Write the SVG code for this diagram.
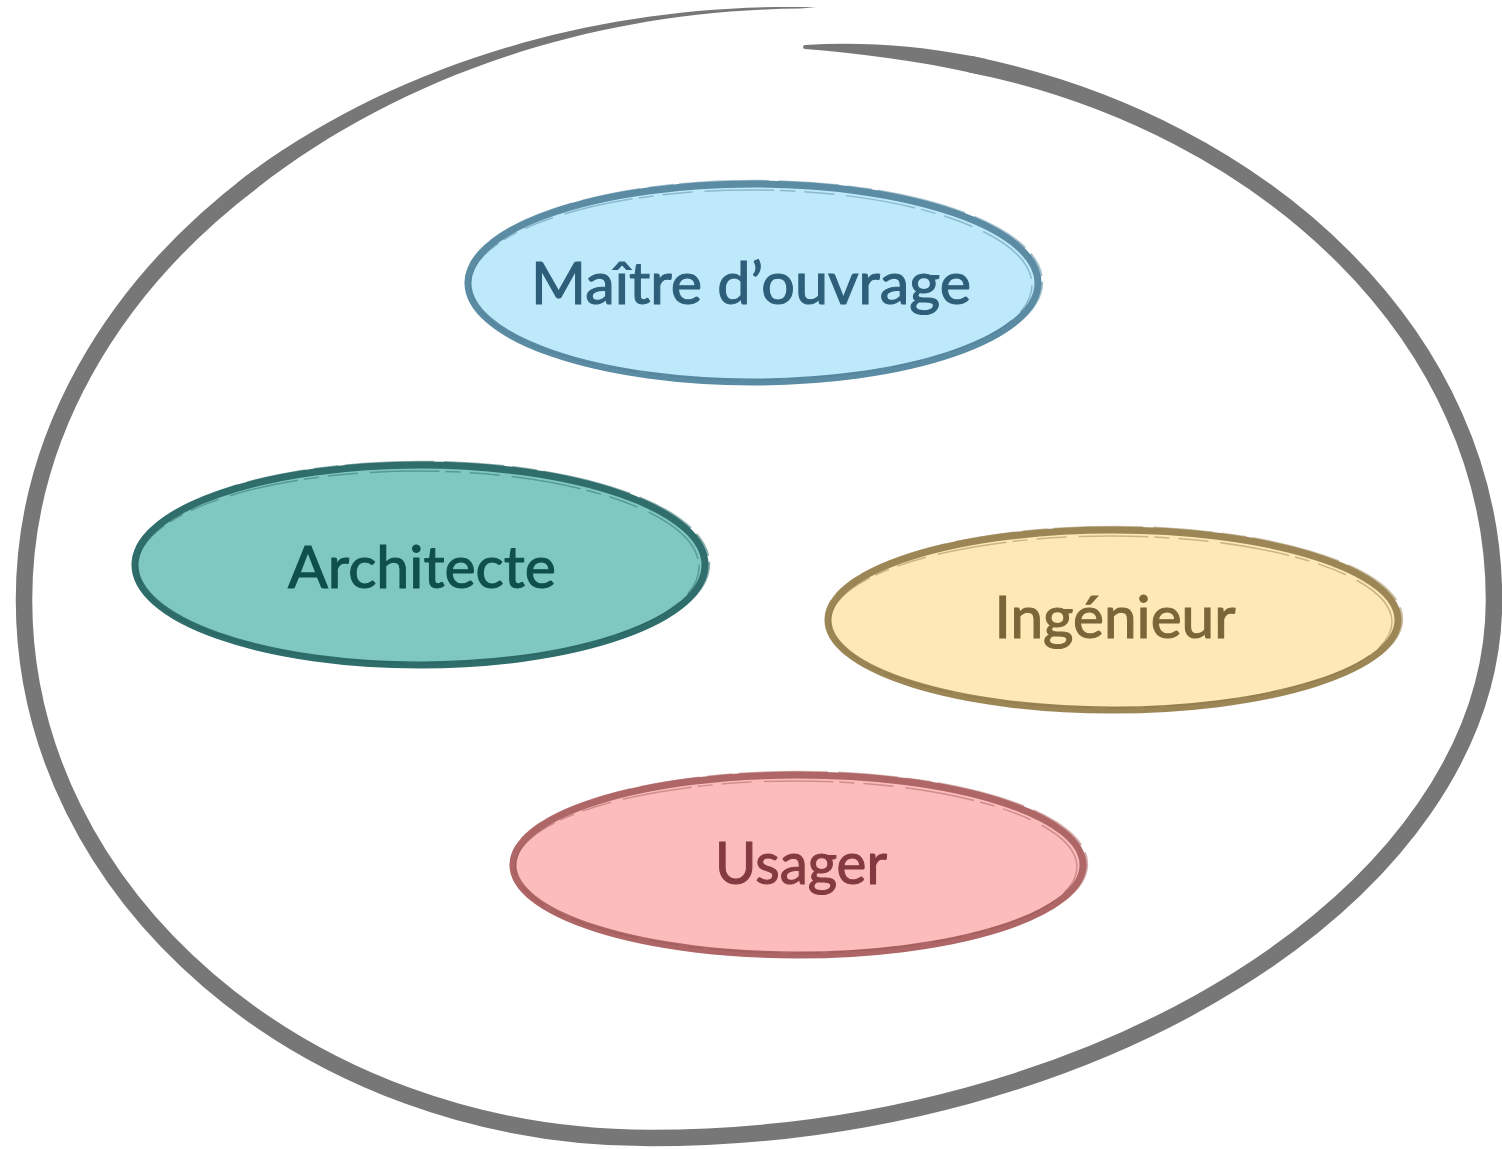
<svg xmlns="http://www.w3.org/2000/svg" width="1502" height="1149" viewBox="0 0 1502 1149">
<style>
.lbl{font-family:Lato,"Noto Sans","Liberation Sans",sans-serif;font-size:58px;text-anchor:middle;stroke-width:1.1px}
.main{stroke-width:7;}
.br1{fill:none;stroke-width:2.5;opacity:.55;stroke-dasharray:60 8 25 6 90 10}
.br2{fill:none;stroke-width:1.5;opacity:.45;stroke-dasharray:30 12 70 6 15 9}
.loop{fill:none;stroke:#777777;stroke-width:16.5;stroke-linecap:butt}
.loopfill{fill:#777777}
</style>
<rect width="1502" height="1149" fill="#ffffff"/>
<g id="outer-loop">
<path class="loop" d="M970.1,64.1 C1270,125.1 1494,341.6 1494,600 C1494,895 1092,1138 650,1138 C306,1138 24,896 24,600 C24,437 111.25,289 251.9,181.75"/>
<path class="loopfill" d="M805,45 C861.5,41.5 916,45.5 971.7,56 L986.4,59 L983.2,75.2 L968.5,72.2 C918.5,61.3 862,53.5 805,49 A2,2 0 0 1 805,45 Z"/>
<path class="loopfill" d="M236.8,183.2 L246.9,175.2 C389.7,69.2 586,5 800,7 L816,7.2 L800,8.6 C587,10.5 395.3,79.8 256.9,188.3 L246.8,196 Z"/>
</g>
<g id="node-maitre">
<ellipse cx="753" cy="283" rx="285" ry="99" fill="#bde9fb" stroke="#5b8ca4" class="main"/>
<ellipse cx="754" cy="282" rx="288" ry="101" stroke="#5b8ca4" class="br1"/>
<ellipse cx="751" cy="285" rx="281" ry="95" stroke="#4f7f96" class="br2"/>
<text class="lbl" x="751" y="304" fill="#2e5f7a" stroke="#2e5f7a" textLength="440" lengthAdjust="spacingAndGlyphs">Maître d’ouvrage</text>
</g>
<g id="node-architecte">
<ellipse cx="420" cy="565" rx="285" ry="100" fill="#7fc8c2" stroke="#2f6e6c" class="main"/>
<ellipse cx="421" cy="564" rx="288" ry="102" stroke="#2f6e6c" class="br1"/>
<ellipse cx="418" cy="567" rx="281" ry="96" stroke="#285f5d" class="br2"/>
<text class="lbl" x="422" y="588" fill="#0f4f4c" stroke="#0f4f4c" textLength="268" lengthAdjust="spacingAndGlyphs">Architecte</text>
</g>
<g id="node-ingenieur">
<ellipse cx="1113" cy="620" rx="285" ry="90" fill="#fde8b6" stroke="#9c8656" class="main"/>
<ellipse cx="1114" cy="619" rx="288" ry="92" stroke="#9c8656" class="br1"/>
<ellipse cx="1111" cy="622" rx="281" ry="86" stroke="#8a7548" class="br2"/>
<text class="lbl" x="1115" y="638" fill="#7a6638" stroke="#7a6638" textLength="241" lengthAdjust="spacingAndGlyphs">Ingénieur</text>
</g>
<g id="node-usager">
<ellipse cx="798" cy="865" rx="285" ry="90" fill="#fdbcbc" stroke="#ae6666" class="main"/>
<ellipse cx="799" cy="864" rx="288" ry="92" stroke="#ae6666" class="br1"/>
<ellipse cx="796" cy="867" rx="281" ry="86" stroke="#9a5555" class="br2"/>
<text class="lbl" x="801" y="884" fill="#843a40" stroke="#843a40" textLength="172" lengthAdjust="spacingAndGlyphs">Usager</text>
</g>
<g id="connectors"></g>
</svg>
